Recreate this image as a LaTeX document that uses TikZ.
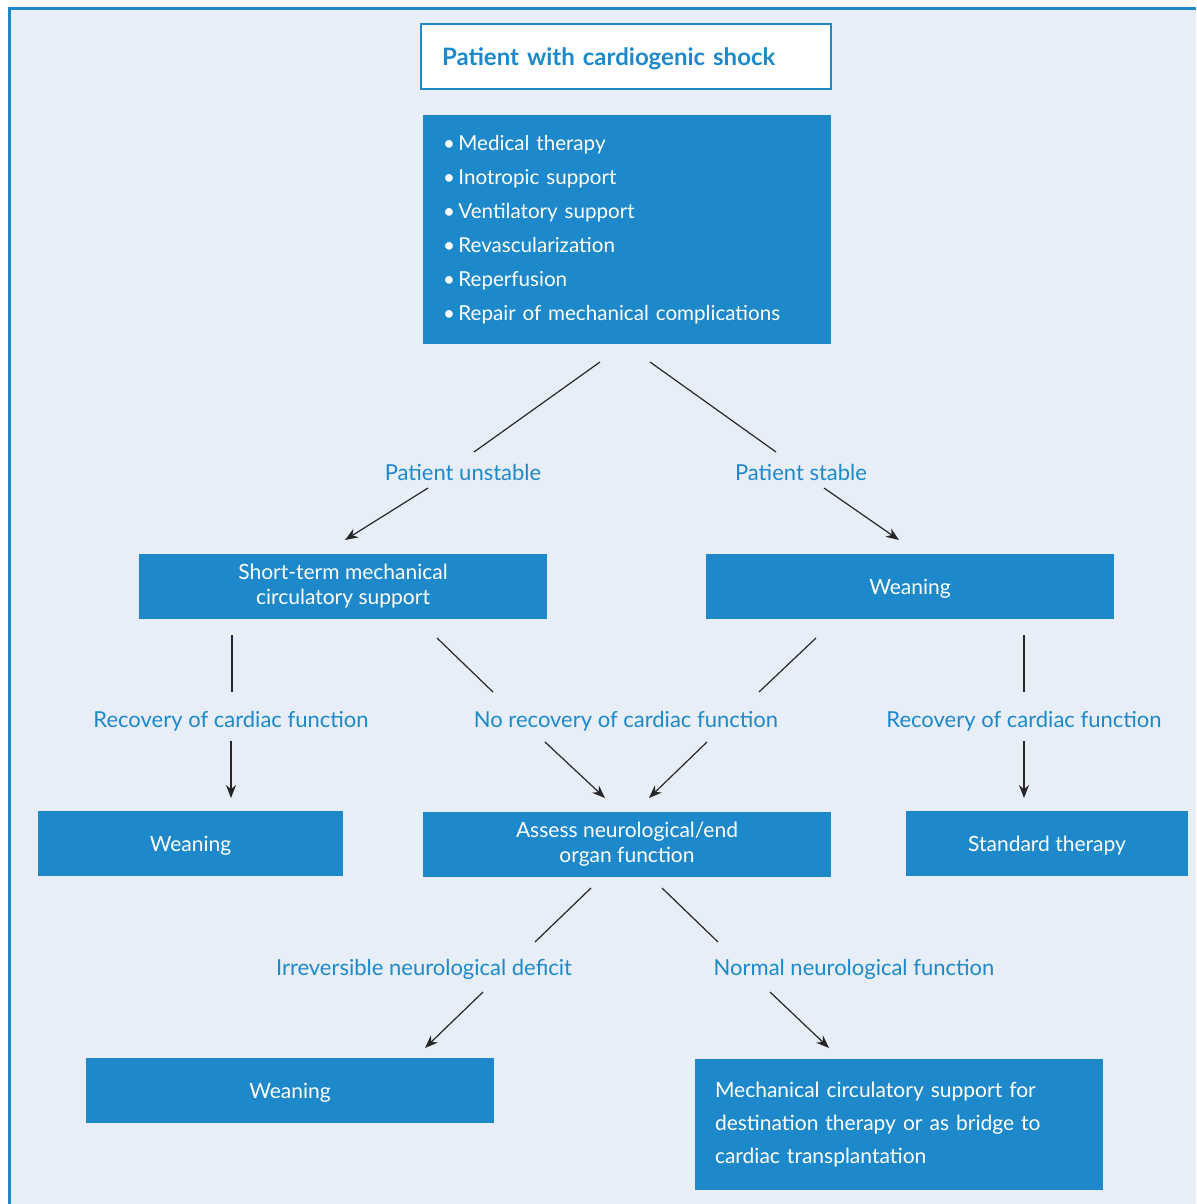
\documentclass[tikz,border=0pt]{standalone}
\usepackage{fontspec}
\setmainfont{Lato}
\usetikzlibrary{arrows.meta}
\definecolor{cblue}{HTML}{1D89CA}
\definecolor{cbg}{HTML}{E7EEF8}
\tikzset{
  bbox/.style={fill=cblue, text=white, inner sep=0pt, align=center, font=\fontsize{21}{25}\selectfont},
  onel/.style={text depth=0pt},
  lbl/.style={text=cblue, inner sep=0pt, font=\fontsize{22}{25}\selectfont},
  ln/.style={line width=1.2pt, draw=black!85},
  arr/.style={ln, -{Stealth[length=13pt,width=10pt]}},
}
\begin{document}
\begin{tikzpicture}[x=1pt,y=-1pt]
\useasboundingbox (0,0) rectangle (1196,1204);
\fill[white] (0,0) rectangle (1196,1204);
\fill[cbg] (8,7) rectangle (1196,1204);
\draw[cblue, line width=3pt] (9.5,1204) -- (9.5,8.5) -- (1196,8.5);

% title
\node[draw=cblue, line width=2pt, fill=white, minimum width=410, minimum height=65, text width=368, inner xsep=21, inner ysep=0, align=left, text=cblue, text depth=0pt, font=\fontsize{24}{25}\selectfont\bfseries] (title) at (626,56.5) {Patient with cardiogenic shock};

% therapy box
\node[bbox, minimum width=408, minimum height=229, text width=368, inner xsep=20, align=left, font=\fontsize{20.6}{34}\selectfont] (ther) at (627,229.5)
{\textbullet\,Medical therapy\\ \textbullet\,Inotropic support\\ \textbullet\,Ventilatory support\\ \textbullet\,Revascularization\\ \textbullet\,Reperfusion\\ \textbullet\,Repair of mechanical complications};

% labels level 1
\node[lbl] (unst) at (463,472) {Patient unstable};
\node[lbl] (stab) at (801,472) {Patient stable};

% level 2 boxes
\node[bbox, minimum width=408, minimum height=65] (stm) at (343,586.5) {Short-term mechanical\\circulatory support};
\node[bbox, onel, minimum width=408, minimum height=65] (wean1) at (910,586.5) {Weaning};

% labels level 2
\node[lbl] (rec1) at (231,721) {Recovery of cardiac function};
\node[lbl] (norec) at (626,721) {No recovery of cardiac function};
\node[lbl] (rec2) at (1024,721) {Recovery of cardiac function};

% level 3 boxes
\node[bbox, onel, minimum width=305, minimum height=65] (wean2) at (190.5,843.5) {Weaning};
\node[bbox, minimum width=408, minimum height=65] (assess) at (627,844.5) {Assess neurological/end\\organ function};
\node[bbox, onel, minimum width=282, minimum height=65] (std) at (1047,843.5) {Standard therapy};

% labels level 3
\node[lbl] (irr) at (424,969) {Irreversible neurological deficit};
\node[lbl] (norm) at (854,969) {Normal neurological function};

% level 4 boxes
\node[bbox, onel, minimum width=408, minimum height=65] (wean3) at (290,1090.5) {Weaning};
\node[bbox, minimum width=408, minimum height=131, text width=368, inner xsep=20, align=left, font=\fontsize{21}{33}\selectfont] (mcs) at (899,1124.5) {Mechanical circulatory support for\\destination therapy or as bridge to\\cardiac transplantation};

% connector endpoints
\coordinate (a1) at (600,362); \coordinate (a2) at (474,452);
\coordinate (a3) at (428,488); \coordinate (a4) at (345,540);
\coordinate (b1) at (650,362); \coordinate (b2) at (776,452);
\coordinate (b3) at (824,488); \coordinate (b4) at (899,540);
\coordinate (c1) at (232,635); \coordinate (c2) at (232,692);
\coordinate (c3) at (231,741); \coordinate (c4) at (231,798);
\coordinate (d1) at (437,638); \coordinate (d2) at (493,692);
\coordinate (d3) at (545,742); \coordinate (d4) at (605,798);
\coordinate (e1) at (816,638); \coordinate (e2) at (759,692);
\coordinate (e3) at (707,742); \coordinate (e4) at (649,798);
\coordinate (f1) at (1024,635); \coordinate (f2) at (1024,692);
\coordinate (f3) at (1024,741); \coordinate (f4) at (1024,798);
\coordinate (g1) at (591,888); \coordinate (g2) at (535,942);
\coordinate (g3) at (483,992); \coordinate (g4) at (425,1048);
\coordinate (h1) at (662,888); \coordinate (h2) at (718,942);
\coordinate (h3) at (770,992); \coordinate (h4) at (829,1048);

\draw[ln] (a1) -- (a2); \draw[arr] (a3) -- (a4);
\draw[ln] (b1) -- (b2); \draw[arr] (b3) -- (b4);
\draw[ln] (c1) -- (c2); \draw[arr] (c3) -- (c4);
\draw[ln] (d1) -- (d2); \draw[arr] (d3) -- (d4);
\draw[ln] (e1) -- (e2); \draw[arr] (e3) -- (e4);
\draw[ln] (f1) -- (f2); \draw[arr] (f3) -- (f4);
\draw[ln] (g1) -- (g2); \draw[arr] (g3) -- (g4);
\draw[ln] (h1) -- (h2); \draw[arr] (h3) -- (h4);
\end{tikzpicture}
\end{document}
